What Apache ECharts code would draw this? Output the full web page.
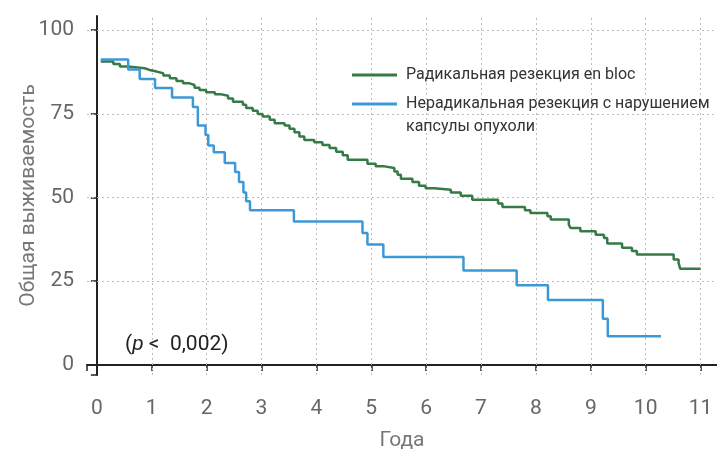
<!DOCTYPE html>
<html>
<head>
<meta charset="utf-8">
<script src="https://cdn.jsdelivr.net/npm/echarts@6/dist/echarts.min.js"></script>
<style>
html,body{margin:0;padding:0;background:#fff;}
#c{width:717px;height:456px;}
</style>
</head>
<body>
<div id="c"></div>
<script>
// ---- data ----
const seriesNames = ['Радикальная резекция en bloc', 'Нерадикальная резекция с нарушением капсулы опухоли'];
const legendLines2 = ['Нерадикальная резекция с нарушением', 'капсулы опухоли'];
const greenT = [0.07,0.30,0.42,0.57,0.87,0.96,1.09,1.21,1.33,1.45,1.57,1.69,1.78,1.87,1.99,2.15,2.27,2.39,2.48,2.66,2.72,2.84,2.93,3.02,3.15,3.24,3.42,3.51,3.60,3.69,3.78,3.96,4.11,4.24,4.36,4.48,4.57,4.93,5.08,5.24,5.42,5.48,5.54,5.75,5.87,5.99,6.15,6.45,6.63,6.84,7.31,7.39,7.80,7.90,8.21,8.27,8.60,8.63,8.81,9.09,9.24,9.30,9.57,9.75,9.84,10.51,10.60,10.63,11.00];
const greenV = [90.6,89.9,89.1,88.6,88.1,87.6,87.1,86.4,85.6,84.8,84.1,83.6,82.8,82.1,81.4,80.8,80.4,79.6,78.6,77.7,76.7,75.9,74.9,74.2,73.2,72.2,71.5,70.5,69.5,68.2,67.2,66.5,65.7,64.8,63.7,62.6,61.3,60.1,59.3,58.8,57.8,56.8,55.6,54.6,53.5,52.8,52.3,51.5,50.5,49.3,48.2,47.2,46.2,45.4,44.4,43.4,41.9,40.9,39.9,38.9,37.9,36.3,35.0,34.0,33.0,31.5,30.5,28.7,28.7];
const blueT = [0.07,0.57,0.78,1.06,1.37,1.75,1.84,1.98,2.03,2.13,2.33,2.52,2.59,2.67,2.72,2.79,3.59,4.84,4.93,5.22,6.68,7.65,8.22,9.22,9.31,10.28];
const blueV = [91.2,88.2,85.4,82.7,79.9,77.0,71.5,68.7,65.5,63.5,60.3,57.6,54.6,51.5,48.9,46.2,42.8,39.4,36.0,32.2,28.2,23.8,19.4,13.8,8.6,8.6];
const xTickLabels = [0,1,2,3,4,5,6,7,8,9,10,11];
const xGridValues = [1,2,3,4,5,6,7,8,9,10,11];
const yTickLabels = [0,25,50,75,100];
const yGridValues = [25,50,75,100];
const xAxisTitle = 'Года';
const yAxisTitle = 'Общая выживаемость';
const pText = '(p <  0,002)';

// ---- chart ----
const FONT = 'Roboto, "Noto Sans", sans-serif';
const zip = (a, b) => a.map((t, i) => [t, b[i]]);
const chart = echarts.init(document.getElementById('c'), null, {renderer: 'canvas'});
const gridLine = {type: [2, 3], color: '#bdbdbd', width: 1};
const legendText = {fontFamily: FONT, fontSize: 16, color: '#333', lineHeight: 23, padding: [0, 0, 0, 4]};
chart.setOption({
  animation: false,
  backgroundColor: '#fff',
  grid: {left: 87, right: 0, top: 16, bottom: 80, containLabel: false},
  legend: [
    {data: [seriesNames[0]], left: 347, top: 58.5, orient: 'vertical', icon: 'rect', itemWidth: 45, itemHeight: 3,
     textStyle: legendText},
    {data: [seriesNames[1]], left: 347, top: 64.5, orient: 'vertical', icon: 'rect', itemWidth: 45, itemHeight: 3,
     formatter: () => ' \n' + legendLines2.join('\n'),
     textStyle: legendText}
  ],
  xAxis: {
    type: 'value', min: -0.18, max: 11.3,
    name: xAxisTitle, nameLocation: 'middle', nameGap: 55, nameMoveOverlap: false,
    nameTextStyle: {fontFamily: FONT, fontSize: 21, color: '#777'},
    axisLine: {show: true, lineStyle: {color: '#222', width: 2}},
    axisTick: {show: true, customValues: [-0.18].concat(xGridValues), length: 6, lineStyle: {color: '#222', width: 1.5}},
    axisLabel: {customValues: xTickLabels, margin: 23, fontFamily: FONT, fontSize: 21, color: '#666'},
    splitLine: {show: false}
  },
  yAxis: {
    type: 'value', min: -3, max: 104.2,
    name: yAxisTitle, nameLocation: 'middle', nameGap: 48, nameRotate: 90, nameMoveOverlap: false,
    nameTextStyle: {fontFamily: FONT, fontSize: 21, color: '#777'},
    axisLine: {show: true, lineStyle: {color: '#222', width: 2}},
    axisTick: {show: true, customValues: [-3].concat(yTickLabels), length: 6, lineStyle: {color: '#222', width: 1.5}},
    axisLabel: {customValues: yTickLabels, margin: 13, fontFamily: FONT, fontSize: 21, color: '#666'},
    splitLine: {show: false}
  },
  series: [
    {
      name: seriesNames[0], type: 'line', step: 'end', symbol: 'none', z: 4,
      data: zip(greenT, greenV),
      lineStyle: {color: '#367a46', width: 2.5}, itemStyle: {color: '#367a46'},
      markLine: {
        silent: true, symbol: 'none', z: 1, animation: false,
        label: {show: false}, lineStyle: gridLine, emphasis: {disabled: true},
        data: xGridValues.map(v => ({xAxis: v})).concat(yGridValues.map(v => ({yAxis: v})))
      }
    },
    {
      name: seriesNames[1], type: 'line', step: 'end', symbol: 'none', z: 5,
      data: zip(blueT, blueV),
      lineStyle: {color: '#3d98d6', width: 2.5}, itemStyle: {color: '#3d98d6'}
    }
  ],
  graphic: [
    {type: 'text', left: 125, top: 334, z: 10,
     style: {text: '{a|(}{p|p}{a|' + pText.slice(2) + '}', rich: {
       a: {fontFamily: FONT, fontSize: 21, fill: '#222'},
       p: {fontFamily: FONT, fontSize: 21, fill: '#222', fontStyle: 'italic'}
     }}}
  ]
});
</script>
</body>
</html>
